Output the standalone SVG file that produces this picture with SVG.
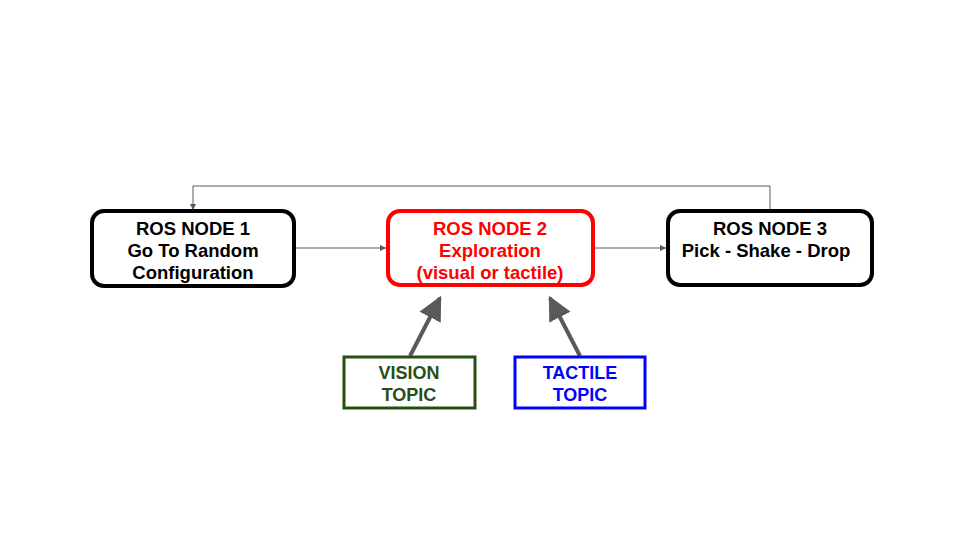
<svg xmlns="http://www.w3.org/2000/svg" width="960" height="540" viewBox="0 0 960 540">
<style>
.t{font-family:"Liberation Sans",Arial,sans-serif;font-weight:bold;font-size:18.5px;text-anchor:middle}
.s{font-size:18px}
.thin{fill:none;stroke:#595959;stroke-width:1}
.thick{fill:none;stroke:#595959;stroke-width:4}
</style>
<defs>
<marker id="sa" viewBox="0 0 10 10" refX="10" refY="5" markerWidth="6" markerHeight="6" markerUnits="userSpaceOnUse" orient="auto"><path d="M0,0 L10,5 L0,10 z" fill="#595959"/></marker>
<marker id="ba" viewBox="0 0 10 10" refX="9" refY="5" markerWidth="24" markerHeight="24" markerUnits="userSpaceOnUse" orient="auto"><path d="M0,0 L10,5 L0,10 z" fill="#595959"/></marker>
</defs>
<rect width="960" height="540" fill="#fff"/>
<g id="connectors">
<path class="thin" d="M770,210 V186 H193 V210" marker-end="url(#sa)"/>
<path class="thin" d="M295,248 H386" marker-end="url(#sa)"/>
<path class="thin" d="M593,248 H666" marker-end="url(#sa)"/>
<path class="thick" d="M410,356 L440,298" marker-end="url(#ba)"/>
<path class="thick" d="M580,356 L550,298" marker-end="url(#ba)"/>
</g>
<g id="node1">
<rect x="92" y="211" width="202" height="75" rx="12" fill="#fff" stroke="#000" stroke-width="4"/>
<text class="t" x="193" y="235">ROS NODE 1</text>
<text class="t" x="193" y="257">Go To Random</text>
<text class="t" x="193" y="279">Configuration</text>
</g>
<g id="node2">
<rect x="388" y="211" width="205" height="74" rx="12" fill="#fff" stroke="#ff0000" stroke-width="4"/>
<text class="t" x="490" y="235" fill="#ff0000">ROS NODE 2</text>
<text class="t" x="490" y="257" fill="#ff0000">Exploration</text>
<text class="t" x="490" y="279" fill="#ff0000">(visual or tactile)</text>
</g>
<g id="node3">
<rect x="668" y="211" width="204" height="74" rx="12" fill="#fff" stroke="#000" stroke-width="4"/>
<text class="t" x="770" y="235">ROS NODE 3</text>
<text class="t" x="766" y="257">Pick - Shake - Drop</text>
</g>
<g id="vision">
<rect x="344" y="357" width="131" height="51" fill="#fff" stroke="#274e13" stroke-width="3"/>
<text class="t s" x="409" y="379" fill="#274e13">VISION</text>
<text class="t s" x="409" y="401" fill="#274e13">TOPIC</text>
</g>
<g id="tactile">
<rect x="515" y="357" width="130" height="51" fill="#fff" stroke="#0000ff" stroke-width="3"/>
<text class="t s" x="580" y="379" fill="#0000ff">TACTILE</text>
<text class="t s" x="580" y="401" fill="#0000ff">TOPIC</text>
</g>
</svg>
